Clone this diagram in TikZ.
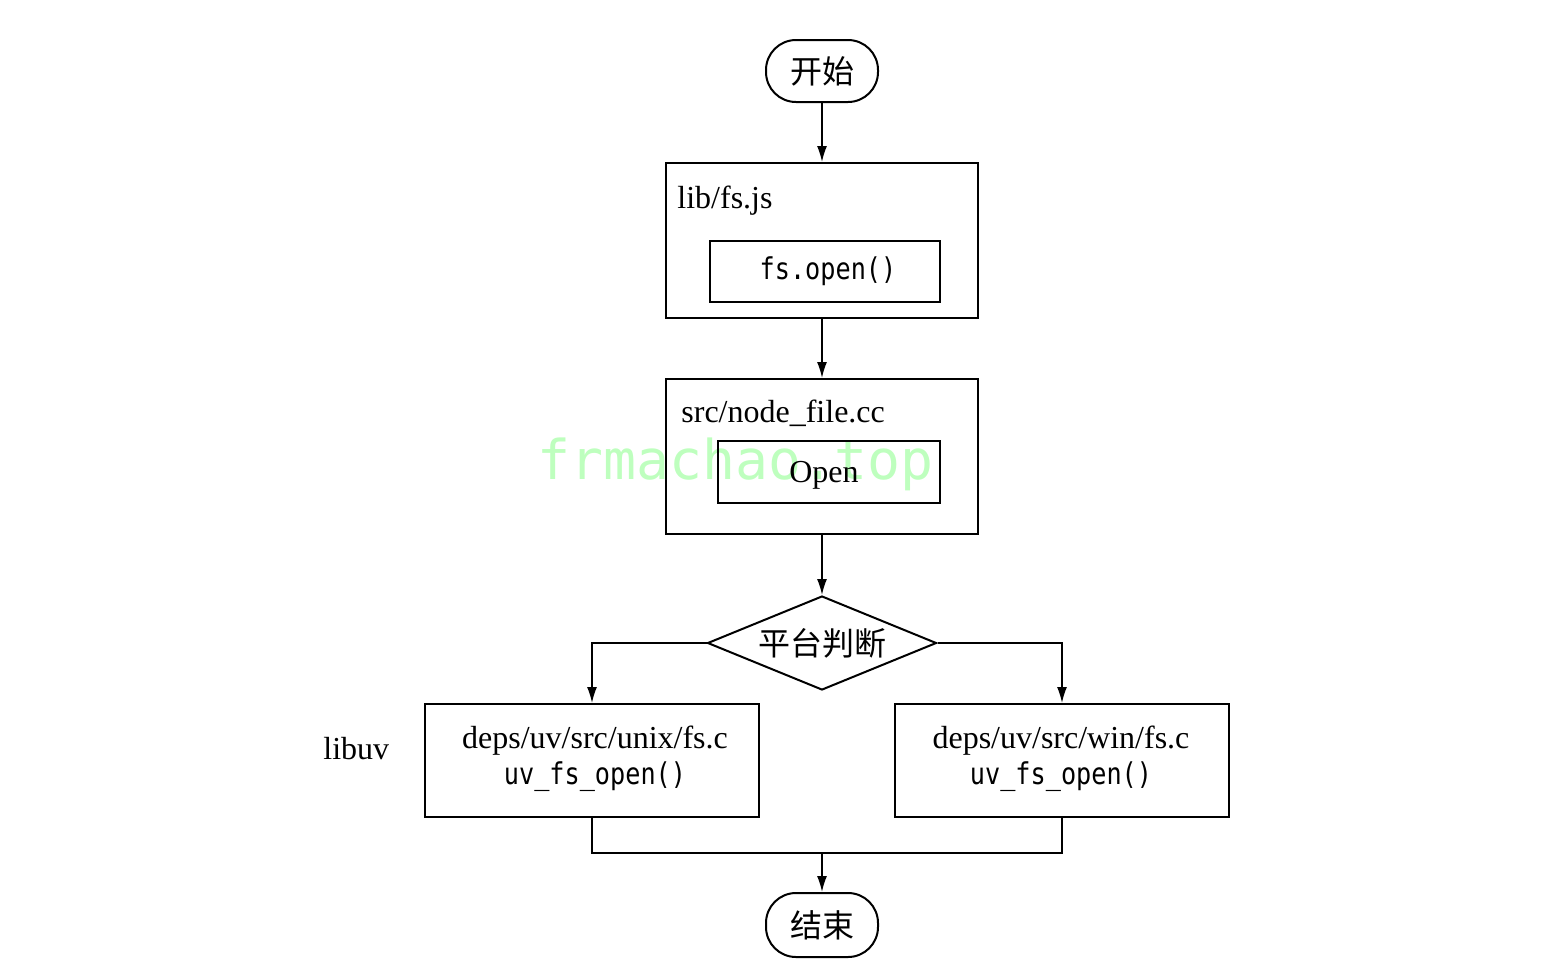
\documentclass[tikz,border=0pt]{standalone}
\usepackage{fontspec}
\setmainfont{Liberation Serif}
\newfontfamily\cjk{Noto Sans CJK SC}
\newfontfamily\monof[FakeStretch=0.84]{DejaVu Sans Mono}
\newfontfamily\wmfont{DejaVu Sans Mono}
\usetikzlibrary{shapes.geometric,arrows.meta}
\definecolor{wmgreen}{RGB}{190,255,190}
\tikzset{
  box/.style={draw,line width=1pt,inner sep=0pt},
  term/.style={draw,line width=1pt,rounded corners=15pt,minimum width=56pt,inner sep=0pt,font=\fontsize{16}{18}\selectfont\cjk},
  serif/.style={inner sep=0pt,font=\fontsize{16}{18}\selectfont},
  mono/.style={inner sep=0pt,font=\fontsize{15}{18}\selectfont\monof},
  arr/.style={-{Latex[length=8pt,width=5pt]},line width=0.8pt},
  conn/.style={line width=0.8pt},
}
\begin{document}
\begin{tikzpicture}[x=0.5pt,y=-0.5pt]
\useasboundingbox (0,0) rectangle (1554,976);
% watermark
\node[inner sep=0pt,anchor=base west,text=wmgreen,font=\fontsize{27.4}{30}\selectfont\wmfont] (wm) at (537,479) {frmachao.top};
% terminals
\node[term,minimum height=31pt] (start) at (822,71) {开始};
\node[term,minimum height=32pt] (end) at (822,925) {结束};
% box 1
\node[box,minimum width=156pt,minimum height=77.5pt] (b1) at (822,240.5) {};
\node[serif,anchor=west] (b1l) at (677,201) {lib/fs.js};
\node[box,minimum width=115pt,minimum height=30.5pt] (b1i) at (825,271.5) {};
\node[mono] (b1t) at (828,271) {fs.open()};
% box 2
\node[box,minimum width=156pt,minimum height=77.5pt] (b2) at (822,456.5) {};
\node[serif,anchor=west] (b2l) at (681,413) {src/node\_file.cc};
\node[box,minimum width=111pt,minimum height=31pt] (b2i) at (829,472) {};
\node[serif] (b2t) at (824,475) {Open};
% decision
\node[draw,line width=1pt,diamond,aspect=2.44,inner sep=0pt,minimum width=114.5pt,minimum height=47pt,font=\fontsize{16}{18}\selectfont\cjk] (dia) at (822,643) {平台判断};
% libuv boxes
\node[box,minimum width=167pt,minimum height=56.5pt] (lb) at (592,760.5) {};
\node[serif] (lbt) at (595,741) {deps/uv/src/unix/fs.c};
\node[mono] (lbf) at (595,777) {uv\_fs\_open()};
\node[box,minimum width=167pt,minimum height=56.5pt] (rb) at (1062,760.5) {};
\node[serif] (rbt) at (1061,741) {deps/uv/src/win/fs.c};
\node[mono] (rbf) at (1061,777) {uv\_fs\_open()};
\node[serif,anchor=west] (libuv) at (323,749) {libuv};
% connectors
\draw[arr] (start.south) -- (b1.north);
\draw[arr] (b1.south) -- (b2.north);
\draw[arr] (b2.south) -- (dia.north);
\draw[arr] (dia.west) -| (lb.north);
\draw[arr] (dia.east) -| (rb.north);
\coordinate (m) at (822,853);
\draw[conn] (lb.south) |- (m);
\draw[conn] (rb.south) |- (m);
\draw[arr] (m) -- (end.north);
\end{tikzpicture}
\end{document}
